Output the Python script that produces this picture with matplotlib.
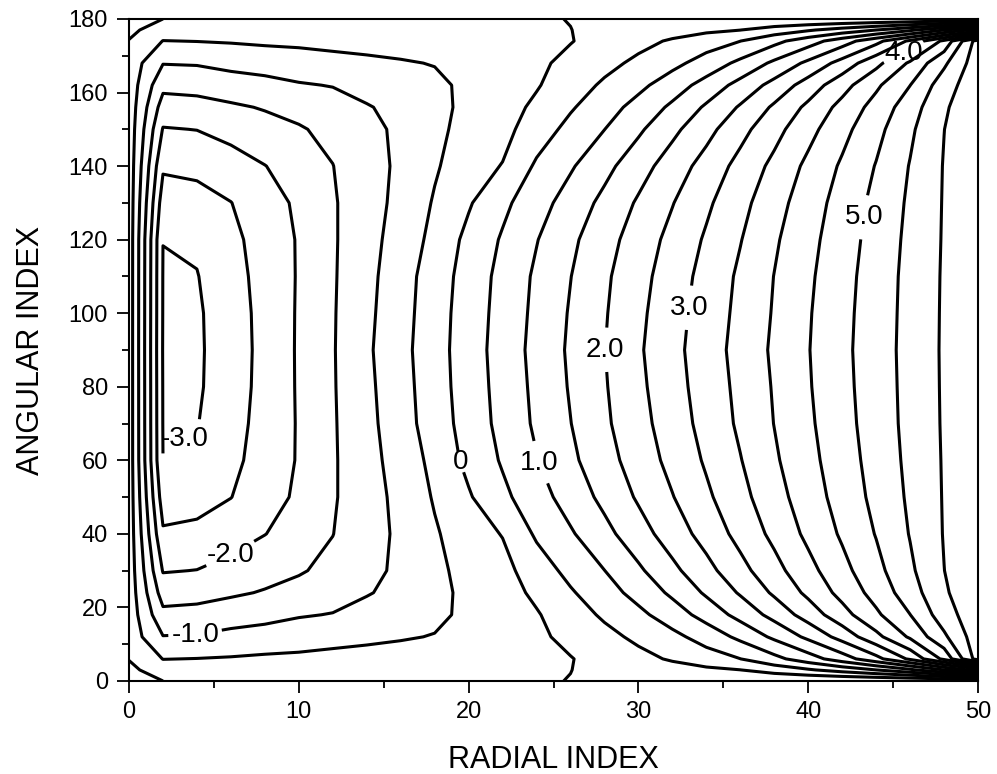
import numpy as np
import matplotlib
matplotlib.use("Agg")
import matplotlib.pyplot as plt
from matplotlib.ticker import MultipleLocator

plt.rcParams['font.family'] = ['Liberation Sans', 'DejaVu Sans']

# ---- data ----
radial = [0, 2, 4, 6, 8, 10, 12, 14, 16, 18, 20, 22, 24,
          26, 28, 30, 32, 34, 36, 38, 40, 42, 44, 46, 48, 50]
# lower half of the angular range; the field is symmetric about 90
angular_lower = [0, 3, 6, 12, 18, 24, 30, 40, 50, 60, 70, 80, 90]

row_a00 = [0.2, 0, 0, 0, 0, 0, 0, 0, 0, 0, 0, 0, -0.04,
           0.01, 0.01, 0.01, 0.01, 0.01, 0.01, 0.01, 0.01, 0.01, 0.01, 0.01, 0.01, 0.01]
row_a03 = [0.12, -0.26, -0.25, -0.23, -0.21, -0.2, -0.18, -0.17, -0.155, -0.13, -0.1, -0.065, -0.055,
           -0.005, 0.1, 0.2, 0.3, 0.4, 0.495, 0.722, 0.944, 1.2, 1.5, 1.9, 2.5, 3.2]
row_a06 = [-0.02, -0.51, -0.49, -0.46, -0.42, -0.4, -0.36, -0.33, -0.31, -0.26, -0.2, -0.13, -0.07,
           -0.02, 0.17, 0.358, 0.556, 0.778, 0.995, 1.357, 1.773, 2.263, 2.844, 3.591, 4.625, 6.25]
row_a12 = [-0.2, -0.98, -0.96, -0.88, -0.8, -0.73, -0.66, -0.6, -0.54, -0.48, -0.35, -0.22, -0.09,
           0.122, 0.358, 0.605, 0.868, 1.2, 1.619, 2.1, 2.611, 3.1875, 3.857, 4.577, 5.409, 6.3]
row_a18 = [-0.2, -1.37, -1.33, -1.2, -1.15, -1.04, -0.98, -0.85, -0.76, -0.6, -0.4, -0.25, -0.04,
           0.268, 0.576, 0.879, 1.25, 1.69, 2.167, 2.667, 3.222, 3.8125, 4.412, 4.995, 5.769, 6.35]
row_a24 = [-0.2, -1.72, -1.68, -1.58, -1.46, -1.33, -1.2, -1.03, -0.88, -0.64, -0.38, -0.2, 0.095,
           0.447, 0.793, 1.167, 1.595, 2.071, 2.553, 3.079, 3.611, 4.158, 4.684, 5.267, 5.933, 6.38]
row_a30 = [-0.2, -2.03, -1.99, -1.85, -1.7, -1.55, -1.36, -1.1, -0.93, -0.62, -0.33, -0.15, 0.25,
           0.643, 0.995, 1.417, 1.881, 2.341, 2.842, 3.333, 3.842, 4.35, 4.85, 5.412, 5.995, 6.4]
row_a40 = [-0.2, -2.43, -2.38, -2.2, -2.01, -1.8, -1.51, -1.13, -0.94, -0.56, -0.2, 0.02, 0.574,
           0.944, 1.354, 1.795, 2.239, 2.69, 3.159, 3.625, 4.114, 4.568, 5.025, 5.525, 6.025, 6.43]
row_a50 = [-0.2, -2.75, -2.68, -2.51, -2.2, -1.92, -1.56, -1.15, -0.9, -0.45, -0.05, 0.386, 0.8,
           1.208, 1.63, 2.0625, 2.479, 2.913, 3.348, 3.81, 4.261, 4.696, 5.133, 5.58, 6.033, 6.44]
row_a60 = [-0.2, -2.997, -2.92, -2.62, -2.3, -1.96, -1.56, -1.15, -0.82, -0.35, 0.128, 0.553, 0.979,
           1.396, 1.8125, 2.229, 2.646, 3.0625, 3.479, 3.932, 4.354, 4.771, 5.191, 5.617, 6.04, 6.45]
row_a70 = [-0.2, -3.015, -3.02, -2.67, -2.34, -1.96, -1.55, -1.14, -0.72, -0.25, 0.2, 0.65, 1.08,
           1.49, 1.916, 2.33, 2.75, 3.167, 3.585, 4.01, 4.418, 4.827, 5.235, 5.643, 6.05, 6.45]
row_a80 = [-0.2, -3.02, -3.07, -2.71, -2.36, -1.95, -1.54, -1.11, -0.69, -0.22, 0.239, 0.678, 1.117,
           1.542, 1.958, 2.391, 2.8125, 3.22, 3.625, 4.042, 4.458, 4.86, 5.255, 5.652, 6.056, 6.45]
row_a90 = [-0.2, -3.03, -3.08, -2.72, -2.37, -1.945, -1.535, -1.08, -0.656, -0.2, 0.258, 0.71, 1.15,
           1.575, 1.99, 2.435, 2.855, 3.26, 3.67, 4.08, 4.48, 4.88, 5.27, 5.66, 6.06, 6.45]

lower_rows = [row_a00, row_a03, row_a06, row_a12, row_a18, row_a24, row_a30,
              row_a40, row_a50, row_a60, row_a70, row_a80, row_a90]

label_levels = [-3.0, -2.0, -1.0, 0.0, 1.0, 2.0, 3.0, 4.0, 5.0]
plain_levels = [-2.5, -1.5, -0.5, 0.5, 1.5, 2.5, 3.5, 4.5, 5.5, 6.0]
label_spots = [(3.3, 65.5), (6.0, 34.3), (3.9, 12.5), (19.8, 60.0), (24.5, 60.0),
               (28.2, 90.0), (33.1, 101.4), (45.7, 170.2), (43.4, 126.0)]

x_ticks = [0, 10, 20, 30, 40, 50]
y_ticks = [0, 20, 40, 60, 80, 100, 120, 140, 160, 180]

# mirror the lower half to the upper half (symmetric field)
angular = angular_lower + [180 - a for a in angular_lower[-2::-1]]
field = np.array(lower_rows + lower_rows[-2::-1], dtype=float)

fig = plt.figure(figsize=(9.97, 7.74), dpi=100)
ax = fig.add_axes([0.1294, 0.1202, 0.8516, 0.8553])

ax.contour(radial, angular, field, levels=plain_levels, colors='black',
           linewidths=2.2, linestyles='solid')
cs = ax.contour(radial, angular, field, levels=label_levels, colors='black',
                linewidths=2.2, linestyles='solid')


def fmt(v):
    return '0' if abs(v) < 1e-9 else f'{v:.1f}'


texts = ax.clabel(cs, fmt=fmt, manual=label_spots,
                  inline=True, inline_spacing=3, fontsize=20)
for t in texts:
    t.set_rotation(0)

ax.set_xlim(0, 50)
ax.set_ylim(0, 180)
ax.set_xticks(x_ticks)
ax.set_yticks(y_ticks)
ax.xaxis.set_minor_locator(MultipleLocator(5))
ax.yaxis.set_minor_locator(MultipleLocator(10))
ax.tick_params(which='major', direction='out', length=8.8, width=1.3,
               labelsize=17, colors='black')
ax.tick_params(which='minor', direction='out', length=5.2, width=1.3)
ax.tick_params(axis='x', which='major', pad=5.4)
ax.tick_params(axis='y', which='major', pad=6.5)
for s in ax.spines.values():
    s.set_linewidth(1.5)

ax.set_xlabel('RADIAL INDEX', fontsize=22, labelpad=16)
ax.set_ylabel('ANGULAR INDEX', fontsize=22, labelpad=16)

fig.savefig('out.png', dpi=100)
